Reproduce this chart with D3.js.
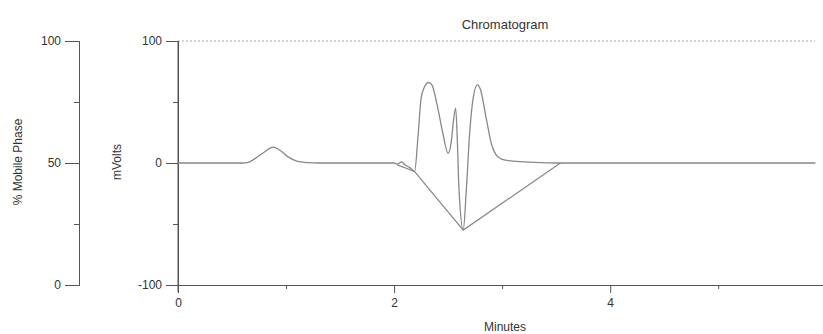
<!DOCTYPE html>
<html>
<head>
<meta charset="utf-8">
<script src="https://cdn.jsdelivr.net/npm/d3@7"></script>
<style>
  body { margin: 0; background: #fff; }
  text { font-family: "Liberation Sans", Arial, sans-serif; fill: #333; }
</style>
</head>
<body>
<div id="chart"></div>
<script>
// signal trace: minutes / mVolts
var minutes = [0, 0.6, 0.65, 0.72, 0.8, 0.88, 0.95, 1.02, 1.1, 1.2, 1.3, 2.0, 2.03, 2.07, 2.1, 2.15, 2.19,
  2.22, 2.25, 2.28, 2.32, 2.35, 2.4, 2.45, 2.5, 2.53, 2.55, 2.57, 2.585, 2.6, 2.64, 2.67, 2.7, 2.73,
  2.77, 2.8, 2.85, 2.9, 2.95, 3.0, 3.1, 3.3, 3.5, 5.9];
var mvolts = [0, 0, 0.5, 4, 9, 13, 10, 5, 1.5, 0.3, 0, 0, -1, 1, -1.5, -4, -7,
  20, 53, 62, 66, 64, 47, 25, 8, 18, 35, 45, 20, -20, -55, -20, 25, 52,
  64, 60, 38, 16, 6, 3, 1.5, 0.5, 0, 0];
// integration baselines
var baseMinutes = [[2.03, 2.19], [2.19, 2.64, 3.54]];
var baseMvolts = [[-1.5, -7], [-7, -55, 0]];

var xTicks = [0, 2, 4];
var xMinor = [1, 3, 5];
var mvTicks = [100, 0, -100];
var mvMinor = [50, -50];
var pctTicks = [100, 50, 0];
var pctMinor = [75, 25];

var width = 823, height = 334;
var svg = d3.select("#chart").append("svg").attr("width", width).attr("height", height);

var x = d3.scaleLinear().domain([0, 5.97]).range([178, 823]);
var y = d3.scaleLinear().domain([-100, 100]).range([285, 41]);
var yp = d3.scaleLinear().domain([0, 100]).range([285, 41]);

var axisCol = "#555";
var fmt = function(d) { return String(d); };

// dotted line at 100
svg.append("line").attr("x1", x(0)).attr("x2", 815).attr("y1", y(100)).attr("y2", y(100))
  .attr("stroke", "#aaa").attr("stroke-dasharray", "2,2").attr("stroke-width", 1);

// % mobile phase axis
var gp = svg.append("g").attr("transform", "translate(79,0)");
gp.call(d3.axisLeft(yp).tickValues(pctTicks).tickFormat(fmt).tickSize(14).tickPadding(4).tickSizeOuter(0));
gp.append("g").call(d3.axisLeft(yp).tickValues(pctMinor).tickSize(5).tickFormat(""));

// mVolts axis
var gy = svg.append("g").attr("transform", "translate(178,0)");
gy.call(d3.axisLeft(y).tickValues(mvTicks).tickFormat(fmt).tickSize(12).tickPadding(4).tickSizeOuter(0));
gy.append("g").call(d3.axisLeft(y).tickValues(mvMinor).tickSize(5).tickFormat(""));
gy.append("line").attr("x1", 0).attr("x2", 0).attr("y1", 41).attr("y2", 292).attr("stroke", axisCol);

// x axis
var gx = svg.append("g").attr("transform", "translate(0,285)");
gx.call(d3.axisBottom(x).tickValues(xTicks).tickFormat(fmt).tickSize(8).tickPadding(5).tickSizeOuter(0));
gx.append("g").call(d3.axisBottom(x).tickValues(xMinor).tickSize(4).tickFormat(""));

svg.selectAll(".domain").attr("stroke", axisCol);
svg.selectAll(".tick line").attr("stroke", axisCol);
svg.selectAll(".tick text").style("font-size", "12px").style("font-family", "Liberation Sans, Arial, sans-serif")
  .attr("fill", "#333");

// trace
var data = minutes.map(function(m, i) { return [m, mvolts[i]]; });
var line = d3.line().x(function(d) { return x(d[0]); }).y(function(d) { return y(d[1]); })
  .curve(d3.curveMonotoneX);
svg.append("path").datum(data).attr("d", line).attr("fill", "none")
  .attr("stroke", "#888").attr("stroke-width", 1.3);

var bline = d3.line().x(function(d) { return x(d[0]); }).y(function(d) { return y(d[1]); });
baseMinutes.forEach(function(ms, k) {
  var pts = ms.map(function(m, i) { return [m, baseMvolts[k][i]]; });
  svg.append("path").datum(pts).attr("d", bline).attr("fill", "none")
    .attr("stroke", "#888").attr("stroke-width", 1.2);
});

// labels
svg.append("text").attr("x", 505).attr("y", 29).attr("text-anchor", "middle")
  .style("font-size", "13px").text("Chromatogram");
svg.append("text").attr("x", 505).attr("y", 331).attr("text-anchor", "middle")
  .style("font-size", "12px").text("Minutes");
svg.append("text").attr("transform", "translate(22,162) rotate(-90)").attr("text-anchor", "middle")
  .style("font-size", "12px").text("% Mobile Phase");
svg.append("text").attr("transform", "translate(121,162) rotate(-90)").attr("text-anchor", "middle")
  .style("font-size", "12px").text("mVolts");
</script>
</body>
</html>
